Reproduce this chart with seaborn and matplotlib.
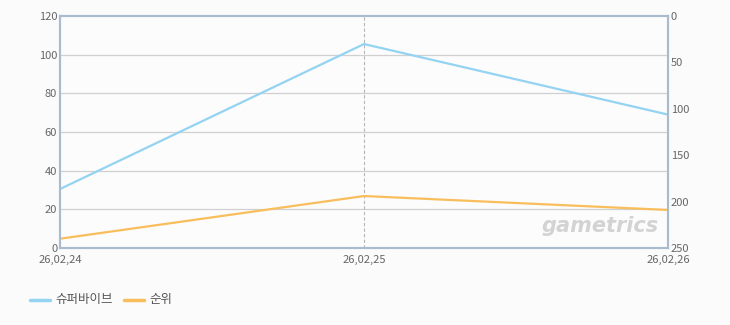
import matplotlib
matplotlib.use("Agg")
import matplotlib.pyplot as plt
import seaborn as sns
import pandas as pd

dates = ["26,02,24", "26,02,25", "26,02,26"]
supervive = [30.5, 105.5, 69]
rank = [240, 194, 209]

sns.set_theme(style="white")
plt.rcParams['font.family'] = ['Noto Sans CJK KR', 'DejaVu Sans']

df = pd.DataFrame({"x": range(len(dates)), "supervive": supervive, "rank": rank})

fig = plt.figure(figsize=(7.3, 3.25), dpi=100, facecolor="#fbfbfb")
ax = fig.add_axes([60/730, 77/325, 608/730, 232/325])
ax.set_facecolor("#fcfcfc")
ax2 = ax.twinx()

blue = "#94d3f2"
orange = "#f9be5c"
sns.lineplot(data=df, x="x", y="supervive", ax=ax, color=blue, lw=1.6, legend=False)
sns.lineplot(data=df, x="x", y="rank", ax=ax2, color=orange, lw=1.6, legend=False)

ax.set_xlim(0, len(dates) - 1)
ax.set_ylim(0, 120)
ax.set_yticks(range(0, 121, 20))
ax2.set_ylim(250, 0)
ax2.set_yticks(range(0, 251, 50))
for y in range(20, 120, 20):
    ax.axhline(y, color="#d0d0d0", lw=0.9, zorder=0)
ax.axvline(1, color="#b5b5b5", lw=0.8, ls=(0, (3, 2)), zorder=0)

ax.set_xticks(range(len(dates)))
ax.set_xticklabels(dates)
for a in (ax, ax2):
    a.set_xlabel("")
    a.set_ylabel("")
    a.tick_params(length=0, labelsize=8, colors="#666666", pad=2)
    for s in a.spines.values():
        s.set_color("#a9bccf")
        s.set_linewidth(1.5)
ax.tick_params(axis="x", pad=5)

ax.text(0.985, 0.05, "gametrics", transform=ax.transAxes, ha="right", va="bottom",
        fontsize=15, fontweight="bold", style="italic", color="#d3d3d3",
        family="DejaVu Sans", zorder=0)

# legend
fig.lines.append(plt.Line2D([30/730, 50/730], [25/325, 25/325], transform=fig.transFigure, color=blue, lw=2.5))
fig.text(55/730, 25/325, "슈퍼바이브", fontsize=9, color="#555555", va="center")
fig.lines.append(plt.Line2D([124/730, 144/730], [25/325, 25/325], transform=fig.transFigure, color=orange, lw=2.5))
fig.text(149/730, 25/325, "순위", fontsize=9, color="#555555", va="center")

fig.savefig("out.png", dpi=100, facecolor=fig.get_facecolor())
